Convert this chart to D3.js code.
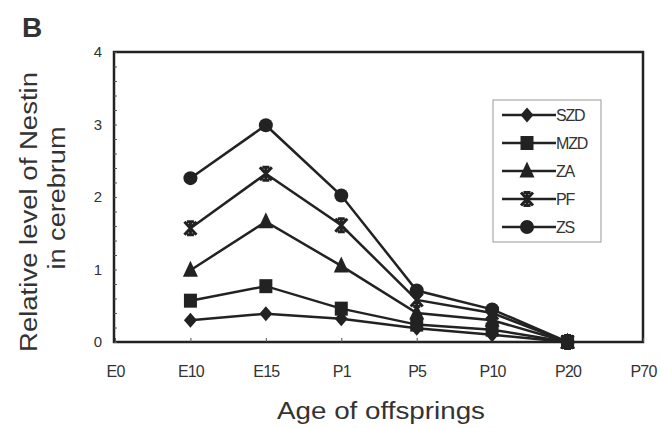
<!DOCTYPE html>
<html>
<head>
<meta charset="utf-8">
<script src="https://cdn.jsdelivr.net/npm/d3@7"></script>
<style>
  body { margin: 0; background: #fff; }
  svg { display: block; }
  text { font-family: "Liberation Sans", Arial, sans-serif; fill: #333; }
</style>
</head>
<body>
<svg id="chart" width="661" height="428"></svg>
<script>
// ages on the x axis (E0 and P70 carry no data)
var ages = ["E0", "E10", "E15", "P1", "P5", "P10", "P20", "P70"];

var szd = [null, 0.30, 0.39, 0.32, 0.19, 0.10, 0.0, null];
var mzd = [null, 0.57, 0.77, 0.46, 0.24, 0.17, 0.0, null];
var za  = [null, 0.99, 1.66, 1.05, 0.40, 0.30, 0.0, null];
var pf  = [null, 1.57, 2.32, 1.61, 0.58, 0.40, 0.0, null];
var zs  = [null, 2.26, 2.99, 2.02, 0.71, 0.45, 0.0, null];

var seriesNames = ["SZD", "MZD", "ZA", "PF", "ZS"];
var seriesVals  = [szd, mzd, za, pf, zs];
var markers     = ["diamond", "square", "triangle", "star", "circle"];

var yTicks = [0, 1, 2, 3, 4];

var svg = d3.select("#chart");
var ink = "#222";

var x = d3.scalePoint().domain(ages).range([115, 643]);
var y = d3.scaleLinear().domain([0, 4]).range([342, 52]);

// marker shapes
function marker(g, type) {
  if (type === "diamond") {
    g.append("path").attr("d", "M0,-7.5L6.5,0L0,7.5L-6.5,0Z").attr("fill", ink);
  } else if (type === "square") {
    g.append("rect").attr("x", -6.5).attr("y", -7).attr("width", 13).attr("height", 14).attr("fill", ink);
  } else if (type === "triangle") {
    g.append("path").attr("d", "M0,-9.5L7.5,6.5L-7.5,6.5Z").attr("fill", ink);
  } else if (type === "star") {
    g.append("path").attr("d", "M-6,-6.5L6,6.5M6,-6.5L-6,6.5M0,-7L0,7M-3.5,-6.5L3.5,-6.5M-3.5,6.5L3.5,6.5")
      .attr("stroke", ink).attr("stroke-width", 3).attr("fill", "none");
  } else {
    g.append("circle").attr("r", 7).attr("fill", ink);
  }
}

// frame
svg.append("rect")
  .attr("x", x.range()[0] - 1).attr("y", y(4))
  .attr("width", x.range()[1] - x.range()[0] + 1).attr("height", y(0) - y(4))
  .attr("fill", "none").attr("stroke", ink).attr("stroke-width", 2.5);

// y minor ticks (inside)
svg.append("g")
  .attr("transform", "translate(" + (x.range()[0] - 1) + ",0)")
  .call(d3.axisLeft(y).ticks(20).tickSize(-3).tickFormat(""))
  .call(function(g) {
    g.select(".domain").remove();
    g.selectAll("line").attr("stroke", "#555").attr("stroke-width", 1);
  });

// y labels
svg.append("g")
  .attr("transform", "translate(" + (x.range()[0] - 1) + ",0)")
  .call(d3.axisLeft(y).tickValues(yTicks).tickSize(0).tickPadding(12).tickFormat(d3.format("d")))
  .call(function(g) {
    g.select(".domain").remove();
    g.selectAll("text").style("font-size", "15px").attr("fill", "#333");
  });

// x ticks and labels
svg.append("g")
  .attr("transform", "translate(0," + y(0) + ")")
  .call(d3.axisBottom(x).tickSize(-4).tickPadding(24))
  .call(function(g) {
    g.select(".domain").remove();
    g.selectAll("line").attr("stroke", "#555").attr("stroke-width", 1);
    g.selectAll("text").style("font-size", "16px").style("letter-spacing", "-0.8px").attr("fill", "#333");
  });

// series
var line = d3.line()
  .defined(function(d) { return d !== null; })
  .x(function(d, i) { return x(ages[i]); })
  .y(function(d) { return y(d); });

seriesVals.forEach(function(vals, s) {
  svg.append("path")
    .datum(vals)
    .attr("d", line)
    .attr("fill", "none")
    .attr("stroke", ink)
    .attr("stroke-width", 2.5);
});

seriesVals.forEach(function(vals, s) {
  vals.forEach(function(v, i) {
    if (v === null) return;
    var g = svg.append("g").attr("transform", "translate(" + x(ages[i]) + "," + y(v) + ")");
    marker(g, markers[s]);
  });
});

// legend
var lg = svg.append("g").attr("transform", "translate(493,100)");
lg.append("rect").attr("width", 108).attr("height", 142)
  .attr("fill", "#fff").attr("stroke", "#999").attr("stroke-width", 1);
seriesNames.forEach(function(name, i) {
  var row = lg.append("g").attr("transform", "translate(0," + (15 + i * 28) + ")");
  row.append("line").attr("x1", 9).attr("x2", 63).attr("stroke", ink).attr("stroke-width", 2.5);
  marker(row.append("g").attr("transform", "translate(34,0)"), markers[i]);
  row.append("text").attr("x", 63).attr("dy", "0.36em")
    .style("font-size", "16px").style("letter-spacing", "-1.2px").text(name);
});

// titles
svg.append("text").attr("x", 22).attr("y", 37)
  .style("font-size", "28px").style("font-weight", "bold").attr("fill", "#222").text("B");

svg.append("text")
  .attr("transform", "translate(37,212) rotate(-90)")
  .attr("text-anchor", "middle")
  .attr("textLength", 280).attr("lengthAdjust", "spacingAndGlyphs")
  .style("font-size", "23px").text("Relative level of Nestin");

svg.append("text")
  .attr("transform", "translate(65,198) rotate(-90)")
  .attr("text-anchor", "middle")
  .attr("textLength", 143).attr("lengthAdjust", "spacingAndGlyphs")
  .style("font-size", "23px").text("in cerebrum");

svg.append("text")
  .attr("x", 381).attr("y", 419)
  .attr("text-anchor", "middle")
  .attr("textLength", 208).attr("lengthAdjust", "spacingAndGlyphs")
  .style("font-size", "23px").text("Age of offsprings");
</script>
</body>
</html>
